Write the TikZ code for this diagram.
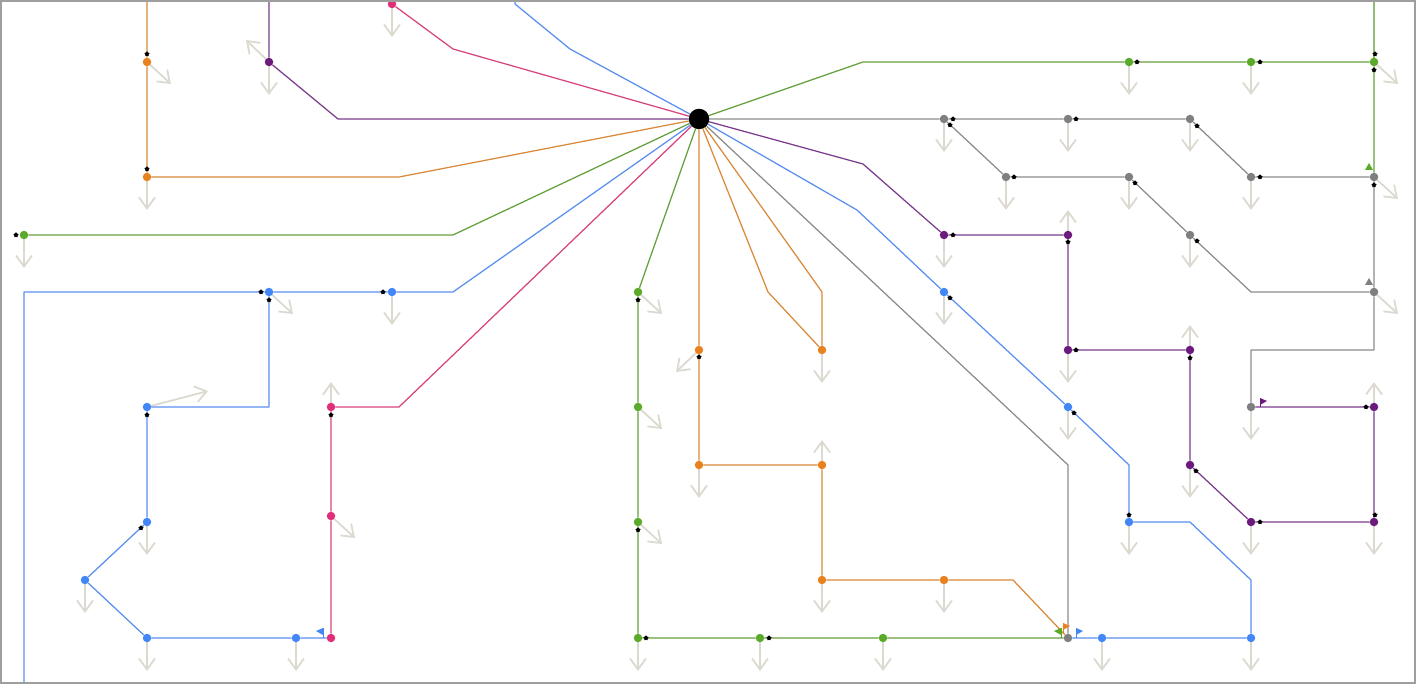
\documentclass[tikz,border=0pt]{standalone}
\usetikzlibrary{arrows.meta,shapes.geometric,backgrounds}
\definecolor{colOrange}{HTML}{E8821E}
\definecolor{lnOrange}{HTML}{D98A3A}
\definecolor{colPurple}{HTML}{6C1A7C}
\definecolor{lnPurple}{HTML}{7B3C8C}
\definecolor{colPink}{HTML}{E02F78}
\definecolor{lnPink}{HTML}{D6457F}
\definecolor{colGreen}{HTML}{5BAA2A}
\definecolor{lnGreen}{HTML}{64A03C}
\definecolor{colBlue}{HTML}{4287F5}
\definecolor{lnBlue}{HTML}{5B8FEF}
\definecolor{colGrey}{HTML}{7F7F7F}
\definecolor{lnGrey}{HTML}{8C8C8C}
\definecolor{hintGrey}{HTML}{DCDAD0}
\definecolor{frameGrey}{HTML}{9E9E9E}
\begin{document}
\begin{tikzpicture}[x=1pt,y=-1pt,
  dot/.style={circle,inner sep=0pt,minimum size=8.5pt},
  odot/.style={dot,fill=colOrange},
  pdot/.style={dot,fill=colPurple},
  kdot/.style={dot,fill=colPink},
  gdot/.style={dot,fill=colGreen},
  bdot/.style={dot,fill=colBlue},
  rdot/.style={dot,fill=colGrey},
  hubdot/.style={circle,fill=black,inner sep=0pt,minimum size=20.5pt},
  link/.style={line width=1.25pt,line join=round},
  hint/.style={draw=hintGrey,line width=1.8pt,-{Straight Barb[length=11pt,width=16pt]}},
  pip/.style={star,star points=5,fill=black,inner sep=0pt,minimum size=5.5pt}]
\useasboundingbox (0,0) rectangle (1416,684);
\node[hubdot] (hub) at (699,119) {};
% orange
\node[odot] (o1) at (147,62) {};
\node[odot] (o2) at (147,177) {};
\node[odot] (o3) at (699,350) {};
\node[odot] (o4) at (822,350) {};
\node[odot] (o5) at (699,465) {};
\node[odot] (o6) at (822,465) {};
\node[odot] (o7) at (822,580) {};
\node[odot] (o8) at (944,580) {};
% purple
\node[pdot] (p1) at (269,62) {};
\node[pdot] (p2) at (944,235) {};
\node[pdot] (p3) at (1068,235) {};
\node[pdot] (p4) at (1068,350) {};
\node[pdot] (p5) at (1190,350) {};
\node[pdot] (p6) at (1190,465) {};
\node[pdot] (p7) at (1251,522) {};
\node[pdot] (p8) at (1374,522) {};
\node[pdot] (p9) at (1374,407) {};
% pink
\node[kdot] (k1) at (392,4) {};
\node[kdot] (k2) at (331,407) {};
\node[kdot] (k3) at (331,516) {};
\node[kdot] (k4) at (331,638) {};
% green
\node[gdot] (g1) at (24,235) {};
\node[gdot] (g2) at (1129,62) {};
\node[gdot] (g3) at (1251,62) {};
\node[gdot] (g4) at (1374,62) {};
\node[gdot] (g5) at (638,292) {};
\node[gdot] (g6) at (638,407) {};
\node[gdot] (g7) at (638,522) {};
\node[gdot] (g8) at (638,638) {};
\node[gdot] (g9) at (760,638) {};
\node[gdot] (g10) at (883,638) {};
% blue
\node[bdot] (b1) at (269,292) {};
\node[bdot] (b2) at (392,292) {};
\node[bdot] (b3) at (147,407) {};
\node[bdot] (b4) at (147,522) {};
\node[bdot] (b5) at (85,580) {};
\node[bdot] (b6) at (147,638) {};
\node[bdot] (b7) at (296,638) {};
\node[bdot] (b8) at (944,292) {};
\node[bdot] (b9) at (1068,407) {};
\node[bdot] (b10) at (1129,522) {};
\node[bdot] (b11) at (1102,638) {};
\node[bdot] (b12) at (1251,638) {};
% grey
\node[rdot] (r1) at (944,119) {};
\node[rdot] (r2) at (1068,119) {};
\node[rdot] (r3) at (1190,119) {};
\node[rdot] (r4) at (1006,177) {};
\node[rdot] (r5) at (1129,177) {};
\node[rdot] (r6) at (1251,177) {};
\node[rdot] (r7) at (1374,177) {};
\node[rdot] (r8) at (1190,235) {};
\node[rdot] (r9) at (1374,292) {};
\node[rdot] (r10) at (1251,407) {};
\node[rdot] (r11) at (1068,638) {};
\begin{scope}[on background layer]
% hints
\foreach \n/\dx/\dy in {o1/24/22,o2/0/33,p1/0/33,p1/-23/-22,k1/0/33,g1/0/33,b2/0/33,
  b1/24/22,b3/61/-16,k2/0/-25,k3/24/22,b4/0/33,b5/0/33,b6/0/33,b7/0/33,
  g5/24/22,g6/24/22,g7/24/22,g8/0/33,g9/0/33,g10/0/33,o3/-23/22,o4/0/33,
  o5/0/33,o6/0/-25,o7/0/33,o8/0/33,r1/0/33,r2/0/33,r3/0/33,r4/0/33,r5/0/33,
  r6/0/33,g2/0/33,g3/0/33,g4/24/22,r7/24/22,r8/0/33,p2/0/33,p3/0/-25,b8/0/33,
  r9/24/22,p4/0/33,p5/0/-25,b9/0/33,r10/0/33,p9/0/-25,p6/0/33,b10/0/33,
  p7/0/33,p8/0/33,b11/0/33,b12/0/33}
  \draw[hint] (\n.center) -- ++(\dx,\dy);
% orange lines
\draw[link,lnOrange] (hub) -- (399,177) -- (o2) -- (o1) -- (147,0);
\draw[link,lnOrange] (hub) -- (o3) -- (o5) -- (o6) -- (o7) -- (o8) -- (1013,580) -- (r11);
\draw[link,lnOrange] (hub) -- (768,292) -- (o4);
\draw[link,lnOrange] (hub) -- (822,292) -- (o4);
% purple lines
\draw[link,lnPurple] (hub) -- (338,119) -- (p1) -- (269,0);
\draw[link,lnPurple] (hub) -- (863,164) -- (p2) -- (p3) -- (p4) -- (p5) -- (p6)
  -- (p7) -- (p8) -- (p9) -- (r10);
% pink lines
\draw[link,lnPink] (hub) -- (453,49) -- (k1);
\draw[link,lnPink] (hub) -- (399,407) -- (k2) -- (k3) -- (k4);
% green lines
\draw[link,lnGreen] (hub) -- (453,235) -- (g1);
\draw[link,lnGreen] (hub) -- (863,62) -- (g2) -- (g3) -- (g4) -- (r7);
\draw[link,lnGreen!70] (g4) -- (1374,0);
\draw[link,lnGreen] (hub) -- (g5) -- (g6) -- (g7) -- (g8) -- (g9) -- (g10) -- (r11);
% blue lines
\draw[link,lnBlue] (hub) -- (570,49) -- (515,4) -- (515,0);
\draw[link,lnBlue] (hub) -- (453,292) -- (b2) -- (b1) -- (24,292) -- (24,684);
\draw[link,lnBlue] (b1) -- (269,407) -- (b3) -- (b4) -- (b5) -- (b6) -- (b7) -- (k4);
\draw[link,lnBlue] (hub) -- (857,210) -- (b8) -- (b9) -- (1129,465) -- (b10)
  -- (1190,522) -- (1251,580) -- (b12) -- (b11) -- (r11);
% grey lines
\draw[link,lnGrey] (hub) -- (r1) -- (r2) -- (r3) -- (r6) -- (r7) -- (r9)
  -- (1374,350) -- (1251,350) -- (r10);
\draw[link,lnGrey] (r1) -- (r4) -- (r5) -- (r8) -- (1251,292) -- (r9);
\draw[link,lnGrey] (hub) -- (1068,465) -- (r11);
\end{scope}
% markers
\foreach \x/\y [count=\i] in {147/54,147/169,16/235,261/292,269/300,383/292,
  147/415,331/415,141/528,638/300,638/530,646/638,769/638,699/357,953/119,
  950/125,1076/119,1197/126,1014/177,1135/183,1260/177,1374/185,1197/241,
  1137/62,1260/62,1375/54,1374/70,953/235,950/298,1076/350,1068/242,
  1190/358,1074/413,1366/407,1196/471,1129/515,1260/522,1375/515}
  \node[pip] (m\i) at (\x,\y) {};
% flags
\draw[colBlue,line width=0.8pt] (323,638) -- (323,628);
\fill[colBlue] (323,628) -- (316,631) -- (323,635) -- cycle;
\draw[colGreen,line width=0.8pt] (1061,638) -- (1061,628);
\fill[colGreen] (1061,628) -- (1054,631) -- (1061,635) -- cycle;
\draw[colOrange,line width=0.8pt] (1063,634) -- (1063,623);
\fill[colOrange] (1063,623) -- (1070,626) -- (1063,630) -- cycle;
\draw[colBlue,line width=0.8pt] (1076,638) -- (1076,628);
\fill[colBlue] (1076,628) -- (1083,631) -- (1076,635) -- cycle;
\draw[colPurple,line width=0.8pt] (1260,407) -- (1260,398);
\fill[colPurple] (1260,398) -- (1267,401) -- (1260,405) -- cycle;
\fill[colGreen] (1365,170) -- (1369,163) -- (1373,170) -- cycle;
\fill[colGrey] (1365,285) -- (1369,278) -- (1373,285) -- cycle;
% frame
\draw[frameGrey,line width=2pt] (1,1) rectangle (1415,683);
\end{tikzpicture}
\end{document}
